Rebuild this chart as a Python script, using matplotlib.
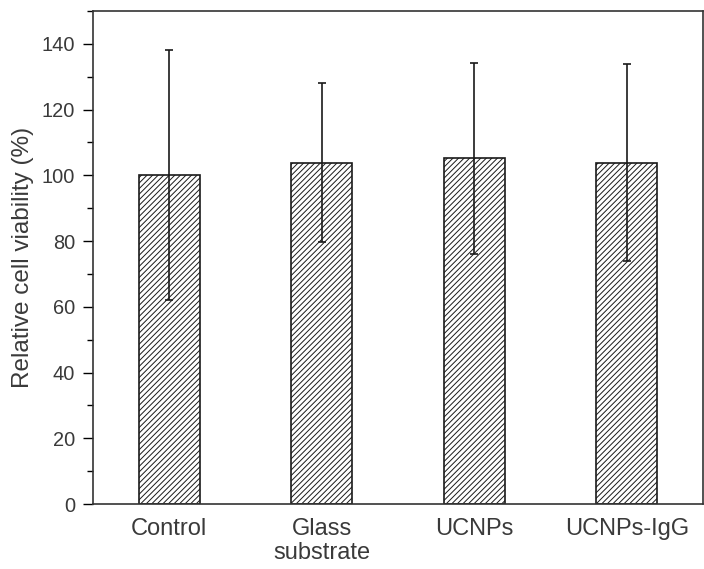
import matplotlib
matplotlib.use("Agg")
import matplotlib.pyplot as plt
from matplotlib.ticker import MultipleLocator

categories = ["Control", "Glass\nsubstrate", "UCNPs", "UCNPs-IgG"]
viability = [100.0, 103.8, 105.2, 103.8]
errors = [38.0, 24.2, 29.1, 30.0]

plt.rcParams["font.family"] = ["Liberation Sans", "DejaVu Sans"]
plt.rcParams["hatch.linewidth"] = 0.7

fig = plt.figure(figsize=(7.04, 5.69), dpi=100)
ax = fig.add_axes([93 / 704, 1 - 504 / 569, 610 / 704, 493 / 569])

x = list(range(1, len(categories) + 1))
ax.bar(x, viability, width=0.4, color="white", edgecolor="#1a1a1a",
       linewidth=1.2, hatch="//////", zorder=2)
ax.errorbar(x, viability, yerr=errors, fmt="none", ecolor="#1a1a1a",
            elinewidth=1.2, capsize=3, capthick=1.2, zorder=3)

ax.set_xlim(0.5, 4.5)
ax.set_ylim(0, 150)
ax.set_xticks(x)
ax.set_xticklabels(categories, fontsize=17, color="#3a3a3a", linespacing=1.12)
ax.tick_params(axis="x", length=0, pad=10)
ax.yaxis.set_major_locator(MultipleLocator(20))
ax.yaxis.set_minor_locator(MultipleLocator(10))
ax.tick_params(axis="y", which="major", length=7, width=1.0, direction="out",
               labelsize=14.4, labelcolor="#3a3a3a", pad=6)
ax.tick_params(axis="y", which="minor", length=4, width=1.0, direction="out")
ax.set_yticks([0, 20, 40, 60, 80, 100, 120, 140])
ax.set_ylabel("Relative cell viability (%)", fontsize=17.5, color="#3a3a3a",
              labelpad=5)
for s in ax.spines.values():
    s.set_linewidth(1.2)
    s.set_color("#333333")

fig.savefig("out.png", dpi=100)
